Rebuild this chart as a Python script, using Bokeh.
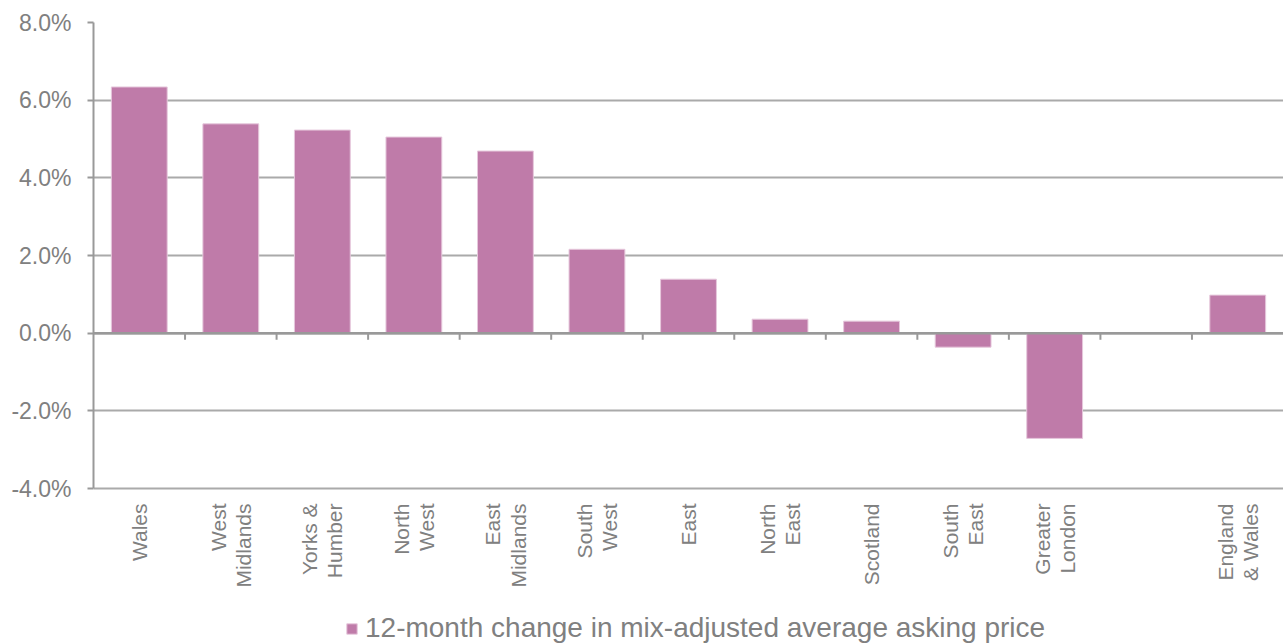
import math
from bokeh.plotting import figure
from bokeh.models import (Range1d, FixedTicker, Legend, LegendItem, ColumnDataSource,
                          Span, CustomJSTickFormatter)
from bokeh.core.properties import value
from bokeh.embed import file_html
from bokeh.resources import INLINE

regions = ["Wales", "West\nMidlands", "Yorks &\nHumber", "North\nWest", "East\nMidlands",
           "South\nWest", "East", "North\nEast", "Scotland", "South\nEast", "Greater\nLondon",
           "", "England\n& Wales"]
change = [6.34, 5.39, 5.23, 5.05, 4.69, 2.16, 1.39, 0.36, 0.31, -0.36, -2.71, None, 0.98]
y_ticks = [-4, -2, 0, 2, 4, 6, 8]

FONT = "Liberation Sans"
GREY = "#808080"
BAR = "#BF7BA9"
AXIS = "#999999"

n = len(regions)
xs = [i + 0.5 for i in range(n) if change[i] is not None]
vals = [v for v in change if v is not None]
src = ColumnDataSource(dict(x=xs, top=vals))
lab_src = ColumnDataSource(dict(x=[i + 0.5 for i in range(n)],
                                y=[y_ticks[0]] * n, text=regions))

FRAME_H, CHART_H = 622, 466
y_top = y_ticks[-1]
y_bot = y_top - (y_ticks[-1] - y_ticks[0]) * FRAME_H / CHART_H

p = figure(width=1283, height=644, frame_width=1190, frame_height=FRAME_H,
           x_range=Range1d(0, n), y_range=Range1d(y_bot, y_top),
           x_axis_location=None,
           output_backend="svg", toolbar_location=None,
           min_border_left=93, min_border_top=22, min_border_right=0, min_border_bottom=0)
p.outline_line_color = None
p.background_fill_color = "white"

p.ygrid.ticker = FixedTicker(ticks=y_ticks)
p.ygrid.grid_line_color = "#aaaaaa"
p.ygrid.grid_line_width = 2
p.xgrid.grid_line_color = None

r = p.vbar(x="x", top="top", bottom=0, width=0.61, source=src,
           fill_color=BAR, line_color="#E6C8DC", line_width=1)

# zero line & category boundary ticks
p.add_layout(Span(location=0, dimension="width", line_color=AXIS, line_width=2.5))
bounds = list(range(1, n))
p.segment(x0=bounds, y0=[0] * len(bounds), x1=bounds, y1=[-0.17] * len(bounds),
          line_color=AXIS, line_width=2)

# y axis
p.yaxis.ticker = FixedTicker(ticks=y_ticks)
p.yaxis.bounds = (y_ticks[0], y_ticks[-1])
p.yaxis.formatter = CustomJSTickFormatter(code="return tick.toFixed(1) + '%';")
p.yaxis.axis_line_color = AXIS
p.yaxis.axis_line_width = 2
p.yaxis.major_tick_line_color = AXIS
p.yaxis.major_tick_line_width = 2
p.yaxis.major_tick_out = 6
p.yaxis.major_tick_in = 0
p.yaxis.minor_tick_line_color = None
p.yaxis.major_label_text_font = FONT
p.yaxis.major_label_text_font_size = "23px"
p.yaxis.major_label_text_color = GREY
p.yaxis.major_label_standoff = 16

# category labels (rotated)
p.text(x="x", y="y", text="text", source=lab_src, angle=math.pi / 2,
       text_align="right", text_baseline="middle", y_offset=15,
       text_font=value(FONT), text_font_size="21px", text_color=GREY,
       text_line_height=1.1)

legend = Legend(items=[LegendItem(label="12-month change in mix-adjusted average asking price",
                                  renderers=[r])],
                orientation="horizontal", location=(252, 0),
                label_text_font=FONT, label_text_font_size="28px", label_text_color=GREY,
                border_line_color=None, background_fill_alpha=0,
                glyph_width=13, glyph_height=13, label_standoff=7,
                margin=0, padding=0, label_height=28)
p.add_layout(legend, "center")

open("out.html", "w").write(file_html(p, INLINE))
